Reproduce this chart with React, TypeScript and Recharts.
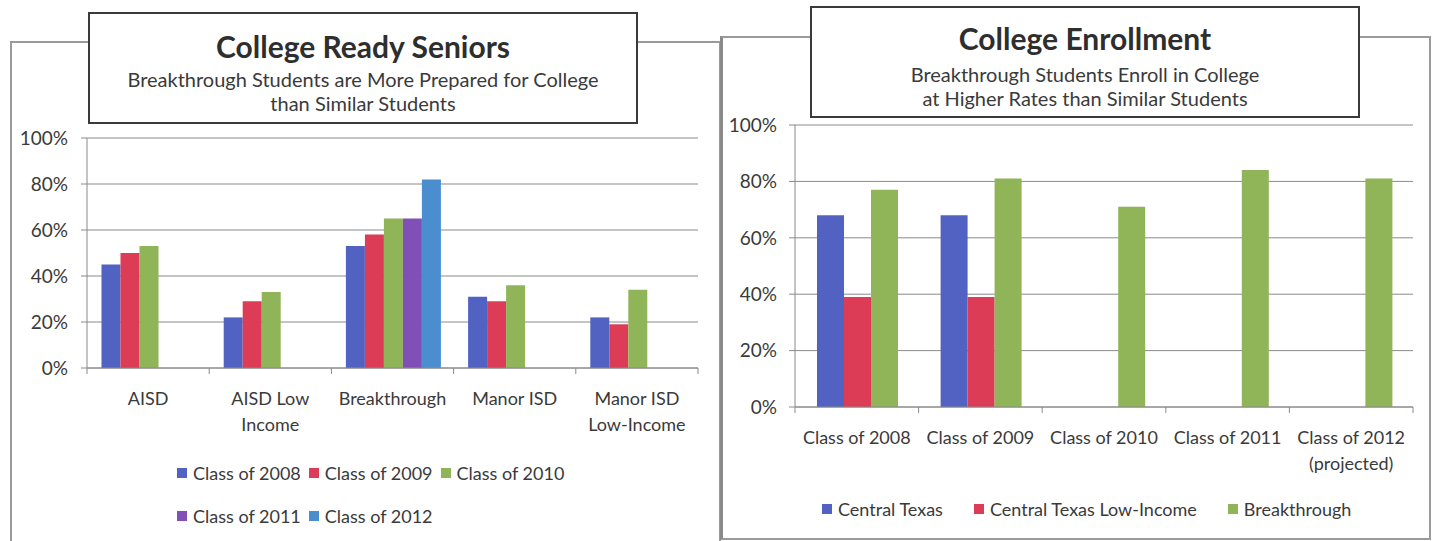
import React from 'react';
import { BarChart, Bar, XAxis, YAxis, CartesianGrid } from 'recharts';

// ---------- Data: College Ready Seniors ----------
const readyCategories = ['AISD', 'AISD Low\nIncome', 'Breakthrough', 'Manor ISD', 'Manor ISD\nLow-Income'];
const readySeriesNames = ['Class of 2008', 'Class of 2009', 'Class of 2010', 'Class of 2011', 'Class of 2012'];
const ready2008 = [45, 22, 53, 31, 22];
const ready2009 = [50, 29, 58, 29, 19];
const ready2010 = [53, 33, 65, 36, 34];
const ready2011 = [null, null, 65, null, null];
const ready2012 = [null, null, 82, null, null];
const readyColors = ['#5262C2', '#DC3C55', '#90B458', '#8050B8', '#4A8ED0'];

// ---------- Data: College Enrollment ----------
const enrollCategories = ['Class of 2008', 'Class of 2009', 'Class of 2010', 'Class of 2011', 'Class of 2012\n(projected)'];
const enrollSeriesNames = ['Central Texas', 'Central Texas Low-Income', 'Breakthrough'];
const enrollCentralTexas = [68, 68, null, null, null];
const enrollLowIncome = [39, 39, null, null, null];
const enrollBreakthrough = [77, 81, 71, 84, 81];
const enrollColors = ['#5262C2', '#DC3C55', '#90B458'];

const percentTicks = [0, 20, 40, 60, 80, 100];

const readySeries = [ready2008, ready2009, ready2010, ready2011, ready2012];
const enrollSeries = [enrollCentralTexas, enrollLowIncome, enrollBreakthrough];

const readyData = readyCategories.map((c, i) => {
  const row: any = { name: c };
  readySeriesNames.forEach((s, k) => (row[s] = readySeries[k][i]));
  return row;
});
const enrollData = enrollCategories.map((c, i) => {
  const row: any = { name: c };
  enrollSeriesNames.forEach((s, k) => (row[s] = enrollSeries[k][i]));
  return row;
});

const FONT = 'Lato, "Open Sans", sans-serif';
const TEXT = '#3a3a3a';
const AXIS = '#8a8a8a';

const makeTick = (bandHalf: number, count: number) => (props: any) => {
  const { x, y, payload, index } = props;
  const lines = String(payload.value).split('\n');
  return (
    <g>
      <line x1={x - bandHalf} x2={x - bandHalf} y1={y} y2={y + 6} stroke={AXIS} strokeWidth={1} />
      {index === count - 1 && (
        <line x1={x + bandHalf} x2={x + bandHalf} y1={y} y2={y + 6} stroke={AXIS} strokeWidth={1} />
      )}
      {lines.map((ln, i) => (
        <text
          key={i}
          x={x}
          y={y + 30 + i * 26}
          textAnchor="middle"
          dominantBaseline="central"
          fill={TEXT}
          fontSize={18}
          fontFamily={FONT}
        >
          {ln}
        </text>
      ))}
    </g>
  );
};

const LegendItem = ({ color, label }: { color: string; label: string }) => (
  <div style={{ display: 'flex', alignItems: 'center' }}>
    <div style={{ width: 10, height: 10, background: color, marginRight: 6 }} />
    <span>{label}</span>
  </div>
);

const TitleBox = ({ left, top, width, height, title, lines, titleY, lineY }: any) => (
  <div
    style={{
      position: 'absolute',
      left,
      top,
      width,
      height,
      boxSizing: 'border-box',
      border: '2px solid #3a3a3a',
      background: '#fff',
      fontFamily: FONT,
      color: TEXT,
    }}
  >
    <div
      style={{
        position: 'absolute',
        left: 0,
        width: '100%',
        top: titleY - 20,
        height: 40,
        lineHeight: '40px',
        textAlign: 'center',
        fontSize: 30,
        fontWeight: 700,
        color: '#2e2e2e',
      }}
    >
      {title}
    </div>
    {lines.map((ln: string, i: number) => (
      <div
        key={i}
        style={{
          position: 'absolute',
          left: 0,
          width: '100%',
          top: lineY + i * 24 - 12,
          height: 24,
          lineHeight: '24px',
          textAlign: 'center',
          fontSize: 20,
        }}
      >
        {ln}
      </div>
    ))}
  </div>
);

export default function App() {
  const leftPlotX0 = 87;
  const leftPlotX1 = 698;
  const rightPlotX0 = 795;
  const rightPlotX1 = 1413;
  const leftHalf = (leftPlotX1 - leftPlotX0) / readyCategories.length / 2;
  const rightHalf = (rightPlotX1 - rightPlotX0) / enrollCategories.length / 2;

  return (
    <div
      style={{
        position: 'absolute',
        left: 0,
        top: 0,
        width: 1432,
        height: 541,
        overflow: 'hidden',
        background: '#fff',
        fontFamily: FONT,
      }}
    >
      {/* outer panel borders */}
      <div style={{ position: 'absolute', left: 10, top: 41, width: 711, height: 520, border: '2px solid #9a9a9a', boxSizing: 'border-box' }} />
      <div style={{ position: 'absolute', left: 720, top: 36, width: 711, height: 504, border: '2px solid #9a9a9a', borderLeft: '3px solid #8a8a8a', boxSizing: 'border-box' }} />

      {/* Left chart */}
      <div style={{ position: 'absolute', left: 0, top: 0 }}>
        <BarChart
          width={721}
          height={541}
          data={readyData}
          margin={{ top: 138, right: 721 - leftPlotX1, left: 0, bottom: 0 }}
          barCategoryGap={14.5}
          barGap={0}
        >
          <CartesianGrid vertical={false} stroke={AXIS} strokeWidth={1} />
          <XAxis
            dataKey="name"
            height={173}
            interval={0}
            stroke={AXIS}
            tickLine={false}
            tickSize={0}
            tickMargin={0}
            tick={makeTick(leftHalf, readyCategories.length)}
          />
          <YAxis
            width={leftPlotX0}
            domain={[0, 100]}
            ticks={percentTicks}
            tickFormatter={(v: number) => `${v}%`}
            stroke={AXIS}
            tickSize={6}
            tickMargin={13}
            tick={{ fill: TEXT, fontSize: 19, fontFamily: FONT }}
          />
          {readySeriesNames.map((s, k) => (
            <Bar key={s} dataKey={s} fill={readyColors[k]} isAnimationActive={false} />
          ))}
        </BarChart>
      </div>

      {/* Right chart */}
      <div style={{ position: 'absolute', left: 720, top: 0 }}>
        <BarChart
          width={712}
          height={541}
          data={enrollData}
          margin={{ top: 125, right: 1432 - rightPlotX1, left: 0, bottom: 0 }}
          barCategoryGap={22}
          barGap={0}
        >
          <CartesianGrid vertical={false} stroke={AXIS} strokeWidth={1} />
          <XAxis
            dataKey="name"
            height={134}
            interval={0}
            stroke={AXIS}
            tickLine={false}
            tickSize={0}
            tickMargin={0}
            tick={makeTick(rightHalf, enrollCategories.length)}
          />
          <YAxis
            width={rightPlotX0 - 720}
            domain={[0, 100]}
            ticks={percentTicks}
            tickFormatter={(v: number) => `${v}%`}
            stroke={AXIS}
            tickSize={6}
            tickMargin={12}
            tick={{ fill: TEXT, fontSize: 19, fontFamily: FONT }}
          />
          {enrollSeriesNames.map((s, k) => (
            <Bar key={s} dataKey={s} fill={enrollColors[k]} isAnimationActive={false} />
          ))}
        </BarChart>
      </div>

      {/* Title boxes */}
      <TitleBox
        left={88}
        top={12}
        width={550}
        height={112}
        title="College Ready Seniors"
        lines={['Breakthrough Students are More Prepared for College', 'than Similar Students']}
        titleY={32}
        lineY={65}
      />
      <TitleBox
        left={810}
        top={6}
        width={550}
        height={112}
        title="College Enrollment"
        lines={['Breakthrough Students Enroll in College', 'at Higher Rates than Similar Students']}
        titleY={30}
        lineY={66}
      />

      {/* Left legend */}
      <div style={{ position: 'absolute', left: 177, top: 461, fontSize: 18, color: TEXT, lineHeight: '24px' }}>
        <div style={{ display: 'flex', gap: 8, height: 24 }}>
          {readySeriesNames.slice(0, 3).map((s, k) => (
            <LegendItem key={s} color={readyColors[k]} label={s} />
          ))}
        </div>
        <div style={{ display: 'flex', gap: 8, height: 24, marginTop: 19 }}>
          {readySeriesNames.slice(3).map((s, k) => (
            <LegendItem key={s} color={readyColors[k + 3]} label={s} />
          ))}
        </div>
      </div>

      {/* Right legend */}
      <div style={{ position: 'absolute', left: 822, top: 497, fontSize: 18, color: TEXT, lineHeight: '24px', display: 'flex', gap: 31 }}>
        {enrollSeriesNames.map((s, k) => (
          <LegendItem key={s} color={enrollColors[k]} label={s} />
        ))}
      </div>
    </div>
  );
}
